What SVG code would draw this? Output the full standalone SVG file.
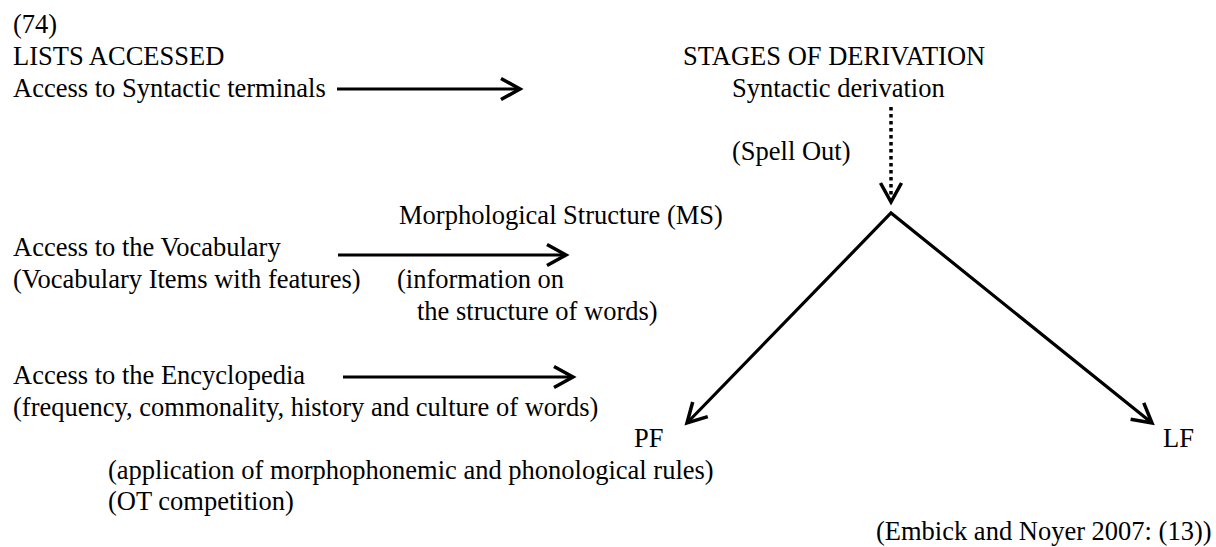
<svg xmlns="http://www.w3.org/2000/svg" width="1216" height="547" viewBox="0 0 1216 547">
<style>
text{font-family:"Liberation Serif","Times New Roman",serif;font-size:26.5px;fill:#000}
.ln{stroke:#000;stroke-width:3.2;fill:none}
.dot{stroke:#000;stroke-width:3.5;fill:none;stroke-dasharray:3.5 3.5}
</style>
<defs>
<marker id="ah" viewBox="-22 -14 26 28" refX="0" refY="0" markerWidth="26" markerHeight="28" markerUnits="userSpaceOnUse" orient="auto-start-reverse">
<path d="M-19 -10.5 L0 0 L-19 10.5" fill="none" stroke="#000" stroke-width="3.5" stroke-linejoin="miter"/>
</marker>
</defs>
<rect width="1216" height="547" fill="#fff"/>
<g id="heading">
<text x="13" y="33">(74)</text>
<text x="13" y="65">LISTS ACCESSED</text>
<text x="683" y="65">STAGES OF DERIVATION</text>
</g>
<g id="syntactic-terminals"><text x="13" y="97">Access to Syntactic terminals</text></g>
<g id="syntactic-derivation"><text x="732" y="97">Syntactic derivation</text></g>
<g id="spell-out"><text x="732" y="160">(Spell Out)</text></g>
<g id="ms">
<text x="399" y="224">Morphological Structure (MS)</text>
<text x="397" y="288">(information on</text>
<text x="417" y="320">the structure of words)</text>
</g>
<g id="vocabulary">
<text x="13" y="256">Access to the Vocabulary</text>
<text x="13" y="288">(Vocabulary Items with features)</text>
</g>
<g id="encyclopedia">
<text x="13" y="384">Access to the Encyclopedia</text>
<text x="13" y="416">(frequency, commonality, history and culture of words)</text>
</g>
<g id="pf">
<text x="634" y="447">PF</text>
<text x="108" y="479">(application of morphophonemic and phonological rules)</text>
<text x="108" y="510">(OT competition)</text>
</g>
<g id="lf"><text x="1163" y="447">LF</text></g>
<g id="source"><text x="876" y="540">(Embick and Noyer 2007: (13))</text></g>
<g id="connectors">
<line class="ln" x1="337" y1="89" x2="520" y2="89" marker-end="url(#ah)"/>
<line class="dot" x1="891" y1="107" x2="891" y2="202" marker-end="url(#ah)"/>
<line class="ln" x1="338" y1="255" x2="566" y2="255" marker-end="url(#ah)"/>
<line class="ln" x1="343" y1="377" x2="573" y2="377" marker-end="url(#ah)"/>
<path class="ln" d="M687 423 L891 213 L1152 423" stroke-linejoin="miter" marker-start="url(#ah)" marker-end="url(#ah)"/>
</g>
</svg>
